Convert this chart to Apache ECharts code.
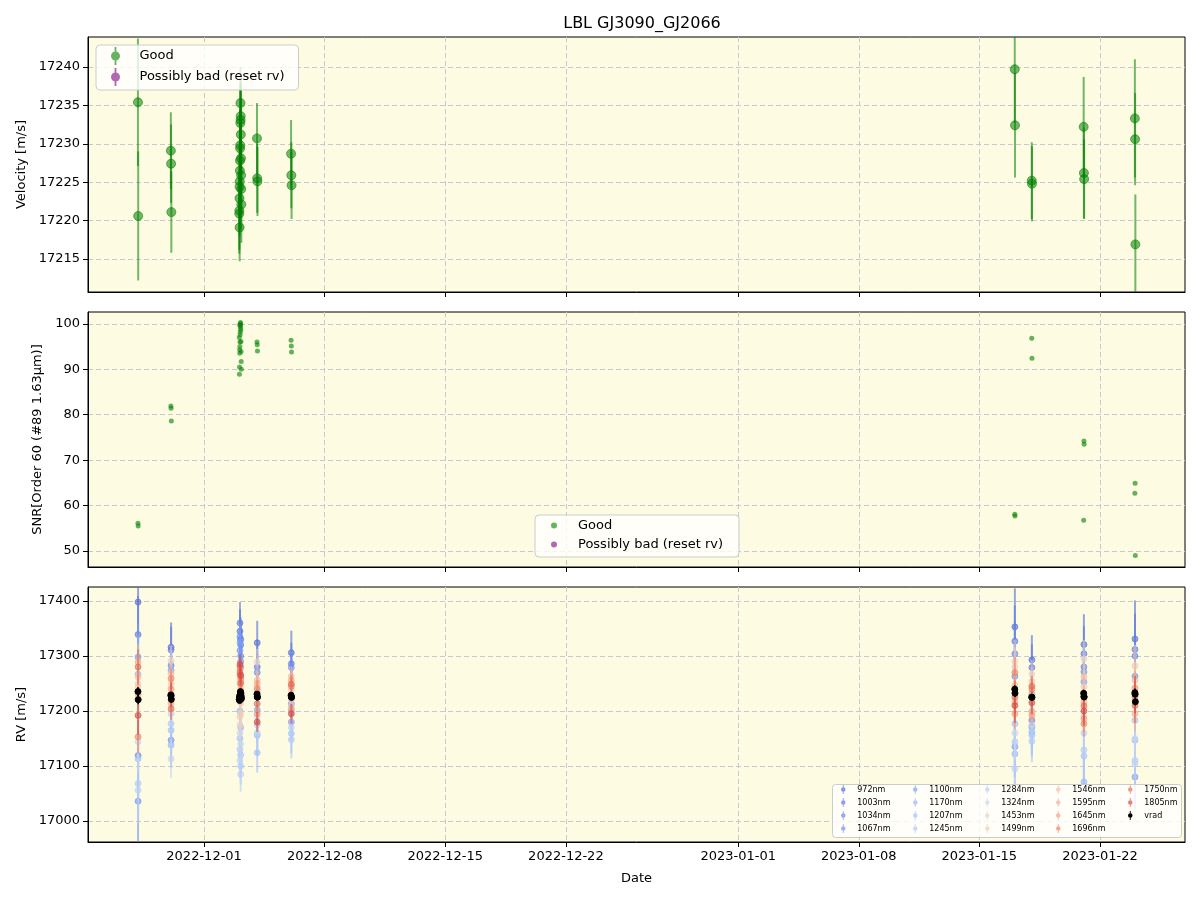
<!DOCTYPE html>
<html>
<head>
<meta charset="utf-8">
<title>LBL GJ3090_GJ2066</title>
<script src="https://cdn.jsdelivr.net/npm/echarts@6/dist/echarts.min.js"></script>
<style>
  html, body { margin: 0; padding: 0; background: #fff; }
  #chart { width: 1200px; height: 900px; }
</style>
</head>
<body>
<div id="chart"></div>
<script>
// one entry per spectrum
const obsTimes = [
  '2022-11-27T03:50', '2022-11-27T04:10',
  '2022-11-29T01:40', '2022-11-29T02:00', '2022-11-29T02:20',
  '2022-12-03T02:40', '2022-12-03T03:00', '2022-12-03T02:50', '2022-12-03T02:30', '2022-12-03T03:10',
  '2022-12-03T02:20', '2022-12-03T02:10', '2022-12-03T03:20', '2022-12-03T02:00', '2022-12-03T01:50',
  '2022-12-03T03:30', '2022-12-03T01:40', '2022-12-03T01:30', '2022-12-03T03:40', '2022-12-03T01:20',
  '2022-12-03T03:50', '2022-12-03T01:10', '2022-12-03T01:00', '2022-12-03T01:30',
  '2022-12-04T01:40', '2022-12-04T02:00', '2022-12-04T02:20',
  '2022-12-06T01:10', '2022-12-06T01:30', '2022-12-06T01:50',
  '2023-01-17T01:20', '2023-01-17T01:40',
  '2023-01-18T01:00', '2023-01-18T01:20',
  '2023-01-21T01:20', '2023-01-21T01:40', '2023-01-21T02:00',
  '2023-01-24T00:40', '2023-01-24T01:00', '2023-01-24T01:20'
];
const velocity = [
  17235.4, 17220.6,
  17229.1, 17227.4, 17221.1,
  17235.3, 17233.6, 17233.1, 17232.7, 17231.2, 17229.8, 17229.4, 17228.1, 17227.8, 17226.5,
  17225.9, 17225.1, 17224.4, 17224.1, 17222.9, 17222.1, 17221.3, 17220.9, 17219.1,
  17230.7, 17225.5, 17225.1,
  17228.7, 17225.9, 17224.6,
  17239.7, 17232.4,
  17225.2, 17224.8,
  17232.2, 17226.2, 17225.4,
  17233.3, 17230.6, 17216.9
];
const velocityErr = [
  8.3, 8.4,
  5.0, 5.1, 5.3,
  4.7, 4.6, 4.8, 4.9, 4.7, 4.8, 5.0, 4.6, 4.9, 5.1,
  4.8, 4.7, 5.0, 5.2, 4.9, 5.0, 5.1, 5.2, 4.4,
  4.6, 4.5, 4.5,
  4.4, 4.3, 4.4,
  7.0, 6.8,
  5.0, 4.9,
  6.5, 5.9, 5.2,
  7.7, 6.0, 6.5
];
const snr = [
  56.1, 55.5,
  81.9, 81.4, 78.6,
  100.3, 100.0, 99.6, 99.2, 98.7, 98.2, 97.6, 96.1, 96.0, 95.0,
  93.9, 93.5, 99.8, 91.7, 90.5, 90.0, 88.9, 97.0, 94.3,
  96.0, 95.4, 94.0,
  96.4, 95.1, 93.8,
  58.1, 57.7,
  96.85, 92.4,
  56.8, 74.2, 73.5,
  62.7, 64.9, 49.05
];

// per-band RV, one column per night (Dec 3 split in two)
const bands = [972, 1003, 1034, 1067, 1100, 1170, 1207, 1245, 1284, 1324, 1453, 1499, 1546, 1595, 1645, 1696, 1750, 1805];
const bandTimes = [
  '2022-11-27T04:00', '2022-11-29T02:00', '2022-12-03T02:00', '2022-12-03T03:00', '2022-12-04T02:00',
  '2022-12-06T01:30', '2023-01-17T01:30', '2023-01-18T01:10', '2023-01-21T01:40', '2023-01-24T00:50'
];
const bandRV = [
  [17398, 17316, 17345, 17330, 17324, 17306, 17353, 17293, 17321, 17331], // 972
  [17339, 17311, 17360, 17320, 17280, 17286, 17327, 17279, 17304, 17312], // 1003
  [17119, 17283, 17335, 17300, 17270, 17213, 17304, 17183, 17280, 17300], // 1034
  [17036, 17147, 17310, 17290, 17233, 17279, 17263, 17230, 17271, 17263], // 1067
  [17298, 17274, 17325, 17280, 17202, 17180, 17135, 17171, 17253, 17080], // 1100
  [17267, 17138, 17200, 17170, 17156, 17200, 17122, 17162, 17071, 17147], // 1170
  [17113, 17165, 17150, 17120, 17124, 17159, 17177, 17156, 17118, 17183], // 1207
  [17068, 17177, 17130, 17100, 17175, 17148, 17144, 17145, 17129, 17110], // 1245
  [17056, 17195, 17110, 17085, 17160, 17170, 17095, 17175, 17160, 17104], // 1284
  [17144, 17113, 17160, 17140, 17190, 17210, 17160, 17200, 17190, 17150], // 1324
  [17250, 17291, 17175, 17195, 17289, 17220, 17290, 17267, 17295, 17240], // 1453
  [17244, 17250, 17190, 17215, 17244, 17238, 17280, 17254, 17244, 17282], // 1499
  [17262, 17268, 17250, 17230, 17256, 17263, 17247, 17233, 17262, 17256], // 1546
  [17289, 17213, 17265, 17240, 17250, 17256, 17216, 17198, 17216, 17195], // 1595
  [17230, 17240, 17275, 17255, 17195, 17204, 17195, 17192, 17186, 17242], // 1645
  [17153, 17259, 17280, 17260, 17240, 17245, 17270, 17240, 17177, 17225], // 1696
  [17280, 17204, 17270, 17250, 17213, 17249, 17225, 17245, 17209, 17210], // 1750
  [17192, 17230, 17285, 17265, 17180, 17195, 17210, 17215, 17200, 17230]  // 1805
];
const bandErr = [
  [75, 45, 40, 40, 40, 40, 70, 45, 55, 70],
  [70, 42, 38, 38, 38, 38, 65, 42, 50, 65],
  [65, 40, 35, 35, 35, 35, 60, 40, 48, 60],
  [80, 40, 35, 35, 35, 35, 60, 40, 48, 60],
  [60, 38, 33, 33, 33, 33, 55, 36, 45, 58],
  [70, 42, 36, 36, 36, 36, 60, 40, 50, 62],
  [70, 42, 36, 36, 36, 36, 60, 40, 50, 62],
  [65, 40, 34, 34, 34, 34, 58, 38, 48, 60],
  [60, 38, 32, 32, 32, 32, 55, 36, 45, 55],
  [55, 35, 30, 30, 30, 30, 50, 34, 42, 52],
  [45, 28, 24, 24, 24, 24, 40, 26, 34, 42],
  [40, 25, 22, 22, 22, 22, 36, 24, 30, 38],
  [35, 22, 18, 18, 18, 18, 32, 20, 26, 34],
  [32, 20, 17, 17, 17, 17, 30, 19, 25, 32],
  [30, 19, 16, 16, 16, 16, 28, 18, 24, 30],
  [30, 19, 16, 16, 16, 16, 28, 18, 24, 30],
  [32, 20, 17, 17, 17, 17, 30, 19, 25, 32],
  [35, 22, 18, 18, 18, 18, 32, 20, 26, 34]
];

const dateTicks = ['2022-12-01', '2022-12-08', '2022-12-15', '2022-12-22', '2023-01-01', '2023-01-08', '2023-01-15', '2023-01-22'];
const velTicks = [17215, 17220, 17225, 17230, 17235, 17240];
const snrTicks = [50, 60, 70, 80, 90, 100];
const rvTicks = [17000, 17100, 17200, 17300, 17400];

const toMs = s => new Date(s).getTime();
const xMin = toMs('2022-11-24T06:15');
const xMax = toMs('2023-01-26T22:30');
const xTickVals = dateTicks.map(d => toMs(d + 'T00:00'));

function fmtDate(v) {
  const d = new Date(v);
  const p = n => String(n).padStart(2, '0');
  return d.getFullYear() + '-' + p(d.getMonth() + 1) + '-' + p(d.getDate());
}

// coolwarm colormap
const cw = [[0, [59, 76, 192]], [0.125, [98, 130, 234]], [0.25, [141, 176, 254]], [0.375, [184, 208, 249]],
  [0.5, [221, 221, 221]], [0.625, [245, 196, 172]], [0.75, [244, 154, 123]], [0.875, [222, 96, 77]], [1, [180, 4, 38]]];
function coolwarm(f) {
  for (let i = 1; i < cw.length; i++) {
    if (f <= cw[i][0]) {
      const a = cw[i - 1], b = cw[i];
      const t = (f - a[0]) / (b[0] - a[0]);
      const c = a[1].map((v, k) => Math.round(v + (b[1][k] - v) * t));
      return 'rgb(' + c.join(',') + ')';
    }
  }
  return 'rgb(180,4,38)';
}
const bandColor = w => coolwarm((w - 900) / 1000);

function errorBar(color, r, lw, opacity) {
  return function (params, api) {
    const t = api.value(0), v = api.value(1), e = api.value(2);
    const p = api.coord([t, v]);
    const lo = api.coord([t, v - e]);
    const hi = api.coord([t, v + e]);
    return {
      type: 'group',
      children: [
        { type: 'line', shape: { x1: p[0], y1: lo[1], x2: p[0], y2: hi[1] }, style: { stroke: color, lineWidth: lw, opacity: opacity } },
        { type: 'circle', shape: { cx: p[0], cy: p[1], r: r }, style: { fill: color, stroke: color, lineWidth: 1, opacity: opacity } }
      ]
    };
  };
}

const font = 'DejaVu Sans';
const gridLine = { show: true, lineStyle: { color: '#c8c8d0', type: [5, 3], width: 1 } };
const errIcon = 'path://M9,0 L11,0 L11,20 L9,20 Z M15,10 A5,5 0 1 1 5,10 A5,5 0 1 1 15,10 Z';

function xAxisFor(i, showLabels) {
  return {
    type: 'value', gridIndex: i, min: xMin, max: xMax,
    axisLine: { show: true, onZero: false, lineStyle: { color: '#000' } },
    axisTick: { show: true, length: 5, customValues: xTickVals, lineStyle: { color: '#000' } },
    axisLabel: { show: showLabels, customValues: xTickVals, formatter: fmtDate, color: '#000', fontSize: 13, fontFamily: font, margin: 8 },
    splitLine: gridLine,
    name: showLabels ? 'Date' : '', nameLocation: 'middle', nameGap: 30,
    nameTextStyle: { color: '#000', fontSize: 13, fontFamily: font }
  };
}
function yAxisFor(i, min, max, ticks, name, gap) {
  return {
    type: 'value', gridIndex: i, min: min, max: max,
    axisLine: { show: true, lineStyle: { color: '#000' } },
    axisTick: { show: true, length: 5, customValues: ticks, lineStyle: { color: '#000' } },
    axisLabel: { customValues: ticks, formatter: v => String(v), color: '#000', fontSize: 13, fontFamily: font, margin: 8 },
    splitLine: gridLine,
    name: name, nameLocation: 'middle', nameGap: gap,
    nameTextStyle: { color: '#000', fontSize: 13, fontFamily: font }
  };
}

const obsMs = obsTimes.map(toMs);
const velData = obsMs.map((t, i) => [t, velocity[i], velocityErr[i]]);
const snrData = obsMs.map((t, i) => [t, snr[i]]);
const bandMs = bandTimes.map(toMs);

const series = [
  { name: 'Good', type: 'custom', xAxisIndex: 0, yAxisIndex: 0, clip: true, encode: { x: 0, y: 1 },
    itemStyle: { color: 'green' }, data: velData, renderItem: errorBar('green', 4.5, 2, 0.55) },
  { name: 'Possibly bad (reset rv)', type: 'scatter', xAxisIndex: 0, yAxisIndex: 0, itemStyle: { color: 'purple' }, data: [] },
  { name: 'Good', type: 'scatter', xAxisIndex: 1, yAxisIndex: 1, symbolSize: 5,
    itemStyle: { color: 'green', opacity: 0.6 }, data: snrData },
  { name: 'Possibly bad (reset rv)', type: 'scatter', xAxisIndex: 1, yAxisIndex: 1, itemStyle: { color: 'purple' }, data: [] }
];
bands.forEach((w, b) => {
  const c = bandColor(w);
  series.push({
    name: w + 'nm', type: 'custom', xAxisIndex: 2, yAxisIndex: 2, clip: true, encode: { x: 0, y: 1 },
    itemStyle: { color: c },
    data: bandMs.map((t, i) => [t, bandRV[b][i], bandErr[b][i]]),
    renderItem: errorBar(c, 3, 2, 0.6)
  });
});
series.push({
  name: 'vrad', type: 'custom', xAxisIndex: 2, yAxisIndex: 2, clip: true, encode: { x: 0, y: 1 },
  itemStyle: { color: '#000' }, data: velData, renderItem: errorBar('#000', 3, 1.5, 1)
});

// rv legend columns
const legendCols = [[0, 1, 2, 3], [4, 5, 6, 7], [8, 9, 10, 11], [12, 13, 14, 15], [16, 17, -1]];
const colLeft = [841, 913, 985, 1056, 1128];
const rvLegends = legendCols.map((col, k) => ({
  orient: 'vertical', left: colLeft[k], top: 785, padding: 0, itemGap: 4, itemWidth: 18, itemHeight: 9,
  selectedMode: false,
  textStyle: { fontSize: 8, fontFamily: font, color: '#000' },
  data: col.map(b => b < 0
    ? { name: 'vrad', icon: errIcon, itemStyle: { color: '#000' } }
    : { name: bands[b] + 'nm', icon: errIcon, itemStyle: { color: bandColor(bands[b]), opacity: 0.7 } })
}));

const chart = echarts.init(document.getElementById('chart'));
chart.setOption({
  animation: false,
  backgroundColor: '#fff',
  title: { text: 'LBL GJ3090_GJ2066', left: 637, top: 11, textAlign: 'center',
    textStyle: { fontSize: 16, fontWeight: 'normal', color: '#000', fontFamily: font } },
  grid: [
    { left: 88, top: 37, width: 1097, height: 255, show: true, backgroundColor: '#fdfbe1', borderColor: '#000', borderWidth: 1 },
    { left: 88, top: 312, width: 1097, height: 255, show: true, backgroundColor: '#fdfbe1', borderColor: '#000', borderWidth: 1 },
    { left: 88, top: 587, width: 1097, height: 255, show: true, backgroundColor: '#fdfbe1', borderColor: '#000', borderWidth: 1 }
  ],
  xAxis: [xAxisFor(0, false), xAxisFor(1, false), xAxisFor(2, true)],
  yAxis: [
    yAxisFor(0, 17210.7, 17243.9, velTicks, 'Velocity [m/s]', 53),
    yAxisFor(1, 46.5, 102.6, snrTicks, 'SNR[Order 60 (#89 1.63μm)]', 44),
    yAxisFor(2, 16961.8, 17425.5, rvTicks, 'RV [m/s]', 53)
  ],
  legend: [
    { orient: 'vertical', left: 96, top: 45, padding: [2, 14, 4, 15], itemGap: 3, itemWidth: 38, itemHeight: 18,
      selectedMode: false, backgroundColor: 'rgba(255,255,255,0.8)', borderColor: '#cccccc', borderWidth: 1, borderRadius: 4,
      textStyle: { fontSize: 13, fontFamily: font, color: '#000' },
      data: [
        { name: 'Good', icon: errIcon, itemStyle: { color: 'green', opacity: 0.6 } },
        { name: 'Possibly bad (reset rv)', icon: errIcon, itemStyle: { color: 'purple', opacity: 0.6 } }
      ] },
    { orient: 'vertical', left: 535, top: 515, padding: [4, 16, 6, 16], itemGap: 6, itemWidth: 38, itemHeight: 6,
      selectedMode: false, backgroundColor: 'rgba(255,255,255,0.8)', borderColor: '#cccccc', borderWidth: 1, borderRadius: 4,
      textStyle: { fontSize: 13, fontFamily: font, color: '#000' },
      data: [
        { name: 'Good', icon: 'circle', itemStyle: { color: 'green', opacity: 0.6 } },
        { name: 'Possibly bad (reset rv)', icon: 'circle', itemStyle: { color: 'purple', opacity: 0.6 } }
      ] }
  ].concat(rvLegends),
  graphic: [
    { type: 'rect', left: 832, top: 784, z: 3, shape: { width: 349, height: 53, r: 3 },
      style: { fill: 'rgba(255,255,255,0.8)', stroke: '#cccccc', lineWidth: 1 } }
  ],
  series: series
});
</script>
</body>
</html>
